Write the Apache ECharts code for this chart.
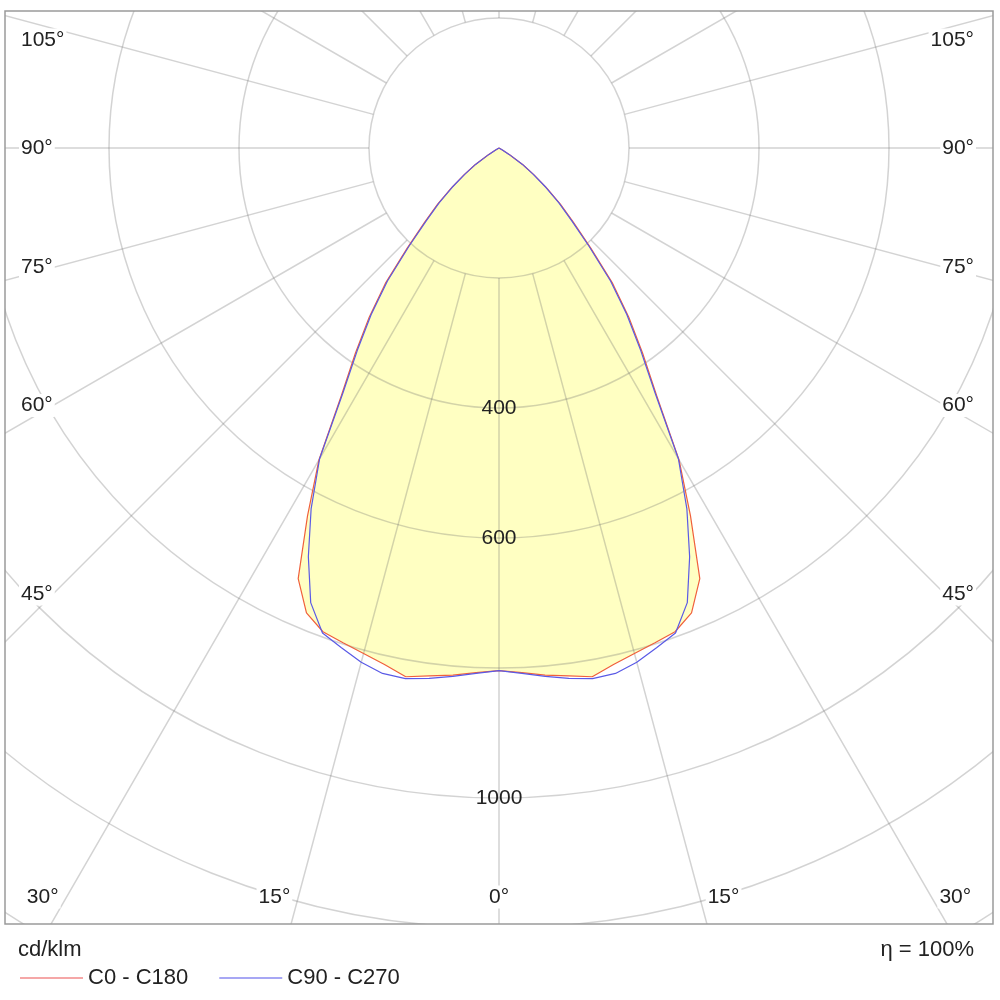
<!DOCTYPE html>
<html>
<head>
<meta charset="UTF-8">
<title>光强分布曲线</title>
<script src="https://cdn.jsdelivr.net/npm/echarts@6/dist/echarts.min.js"></script>
<style>body{margin:0;background:#fff}</style>
</head>
<body>
<div id="main" style="width:1000px;height:1000px;"></div>
<script type="text/javascript">
// gamma angles of the half profile (0 = straight down)
var angles = [0, 2.5, 5, 7.5, 10, 12.5, 15, 17.5, 20, 22.5, 25, 27.5, 30, 32.5, 35, 37.5, 40, 42.5, 45, 47.5, 50, 52.5, 55, 57.5, 60, 65];
// cd/klm
var c0c180  = [804, 808, 814, 819, 826, 814, 805, 798, 792, 774, 731, 638, 554, 451, 385, 328, 272, 209, 162, 128, 96, 68, 45, 20, 6, 0];
var c90c270 = [804, 809, 816, 823, 829, 828, 819, 806, 794, 757, 694, 626, 552, 447, 380, 323, 267, 205, 158, 125, 94, 66, 44, 19, 6, 0];
var seriesNames = ['C0 - C180', 'C90 - C270'];
var angleLabels = [0, 15, 30, 45, 60, 75, 90, 105];
var radiusLabels = [400, 600, 1000];

// layout
var cx = 499, cy = 148;     // pole
var scale = 0.65;           // px per cd/klm
var rMax = 1420;
var box = {x: 5, y: 11, w: 988, h: 913};
var font = 'Liberation Sans, Arial, sans-serif';
var txtColor = '#222';

// right half (360-g) then left half (g)
function profile(vals) {
    var pts = [];
    for (var i = angles.length - 1; i >= 0; i--) pts.push([vals[i], 360 - angles[i]]);
    for (var j = 1; j < angles.length; j++) pts.push([vals[j], angles[j]]);
    return pts;
}

function txt(t, x, y, align) {
    return {
        type: 'text', x: x, y: y, z: 60,
        style: {text: t, fill: txtColor, font: '21px ' + font, align: align, verticalAlign: 'middle',
                backgroundColor: '#fff', padding: [1, 2]}
    };
}

// angle labels sit on the spokes, at the frame edges
var labelEls = [];
angleLabels.forEach(function (g) {
    var t = g + '°';
    var rad = g * Math.PI / 180;
    if (g <= 30) {
        var y = 897;
        var dx = (y - cy) * Math.tan(rad);
        if (g === 0) {
            labelEls.push(txt(t, cx, y, 'center'));
        } else {
            labelEls.push(txt(t, cx - dx - 6, y, 'right'));
            labelEls.push(txt(t, cx + dx + 6, y, 'left'));
        }
    } else {
        var y2 = Math.max(40, cy + 446 / Math.tan(rad));
        labelEls.push(txt(t, 19, y2, 'left'));
        labelEls.push(txt(t, 976, y2, 'right'));
    }
});

// white masks clip the grid to the frame
var frameEls = [
    {type: 'rect', z: 50, shape: {x: 0, y: 0, width: 1000, height: box.y}, style: {fill: '#fff'}},
    {type: 'rect', z: 50, shape: {x: 0, y: 0, width: box.x, height: 1000}, style: {fill: '#fff'}},
    {type: 'rect', z: 50, shape: {x: box.x + box.w, y: 0, width: 1000, height: 1000}, style: {fill: '#fff'}},
    {type: 'rect', z: 50, shape: {x: 0, y: box.y + box.h, width: 1000, height: 100}, style: {fill: '#fff'}},
    {type: 'rect', z: 51, shape: {x: box.x, y: box.y, width: box.w, height: box.h},
     style: {fill: 'none', stroke: '#9a9a9a', lineWidth: 1.5}}
];

var gridLine = {show: true, lineStyle: {color: 'rgba(110,110,110,0.3)', width: 1.5}};
var titleText = {fontSize: 22, fontWeight: 'normal', color: txtColor, fontFamily: font};

var myChart = echarts.init(document.getElementById('main'));

var option = {
    animation: false,
    title: [
        {text: 'cd/klm', left: 18, top: 939, padding: 0, z: 100, textStyle: titleText},
        {text: 'η = 100%', right: 26, top: 939, padding: 0, z: 100, textStyle: titleText}
    ],
    legend: {
        data: seriesNames, left: 15, top: 962, z: 100,
        icon: 'rect', itemWidth: 63, itemHeight: 1.5, itemGap: 31,
        textStyle: {fontSize: 22, color: txtColor, fontFamily: font}
    },
    // polar 0: grid (starts at 200), polar 1: data (starts at 0)
    polar: [
        {center: [cx, cy], radius: [200 * scale, rMax * scale]},
        {center: [cx, cy], radius: [0, rMax * scale]}
    ],
    angleAxis: [
        {polarIndex: 0, type: 'value', min: 0, max: 360, interval: 15, startAngle: 270, clockwise: true, z: 3,
         axisLine: {show: false}, axisTick: {show: false}, axisLabel: {show: false}, splitLine: gridLine},
        {polarIndex: 1, type: 'value', min: 0, max: 360, startAngle: 270, clockwise: true,
         axisLine: {show: false}, axisTick: {show: false}, axisLabel: {show: false}, splitLine: {show: false}}
    ],
    radiusAxis: [
        {polarIndex: 0, type: 'value', min: 200, max: rMax, interval: 200, z: 3,
         axisLine: {show: false}, axisTick: {show: false}, splitLine: gridLine,
         axisLabel: {show: true, margin: 0, align: 'center', verticalAlign: 'middle',
                     fontSize: 21, color: txtColor, fontFamily: font,
                     formatter: function (v) { return radiusLabels.indexOf(v) >= 0 ? String(v) : ''; }}},
        {polarIndex: 1, type: 'value', min: 0, max: rMax,
         axisLine: {show: false}, axisTick: {show: false}, axisLabel: {show: false}, splitLine: {show: false}}
    ],
    graphic: frameEls.concat(labelEls),
    series: [
        {type: 'line', coordinateSystem: 'polar', polarIndex: 1, data: profile(c0c180), symbol: 'none', silent: true, z: 1,
         lineStyle: {width: 0}, areaStyle: {color: '#ffffc2', opacity: 1}},
        {name: seriesNames[0], type: 'line', coordinateSystem: 'polar', polarIndex: 1, data: profile(c0c180), symbol: 'none', z: 5,
         lineStyle: {color: '#f0603c', width: 1.2}, itemStyle: {color: '#f28a8a'}},
        {name: seriesNames[1], type: 'line', coordinateSystem: 'polar', polarIndex: 1, data: profile(c90c270), symbol: 'none', z: 5,
         lineStyle: {color: '#5a5ae6', width: 1.2}, itemStyle: {color: '#8a8af0'}}
    ]
};
myChart.setOption(option);
</script>
</body>
</html>
